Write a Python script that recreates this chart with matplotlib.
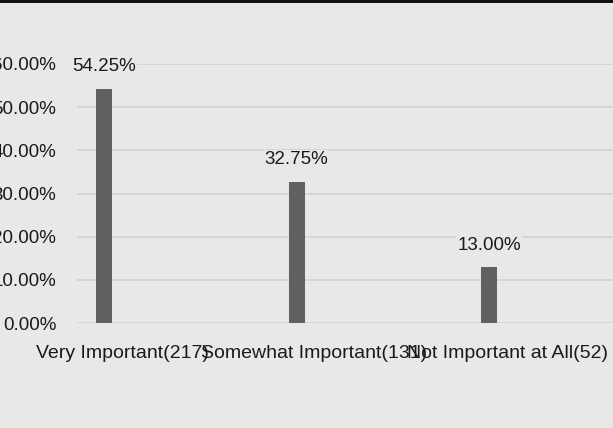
import matplotlib
matplotlib.use("Agg")
import matplotlib.pyplot as plt
from matplotlib.patches import Rectangle
from matplotlib.ticker import FuncFormatter

categories = ["Very Important(217)", "Somewhat Important(131)", "Not Important at All(52)"]
values = [54.25, 32.75, 13.00]
yticks = [0, 10, 20, 30, 40, 50, 60]

plt.rcParams['font.family'] = ['Liberation Sans', 'DejaVu Sans']

W, H = 613, 428
fig = plt.figure(figsize=(W / 100, H / 100), dpi=100)
bg = "#e8e8e8"
fig.patch.set_facecolor(bg)

left = 77 / W
bottom = 1 - 323 / H
top = 1 - 64 / H
ax = fig.add_axes([left, bottom, 1 - left, top - bottom])
ax.set_facecolor(bg)

step = 192.5
offset = 18 / step
x = list(range(len(categories)))
bx = [xi - offset for xi in x]
ax.bar(bx, values, width=16 / step, color="#606060", zorder=3)
ax.set_xlim(-(122 - 77) / step, 2 + (613 - 507) / step)
ax.set_ylim(0, 60)
ax.set_yticks(yticks)
ax.yaxis.set_major_formatter(FuncFormatter(lambda v, p: f"{v:.2f}%"))
ax.set_xticks(x)
ax.set_xticklabels(categories)
for s in ax.spines.values():
    s.set_visible(False)
ax.grid(axis="y", color="#d4d4d4", linewidth=1.3, zorder=0)
ax.tick_params(axis="both", length=0, colors="#1a1a1a")
ax.tick_params(axis="y", pad=15, labelsize=13.5)
ax.tick_params(axis="x", pad=15.5, labelsize=14)

for xi, v in zip(bx, values):
    ax.annotate(f"{v:.2f}%", (xi, v), xytext=(0, 12.5), textcoords="offset points",
                ha="center", va="baseline", fontsize=13.5, color="#1a1a1a", zorder=4,
                bbox=dict(boxstyle="square,pad=0.05", facecolor=bg, edgecolor="none"))

fig.add_artist(Rectangle((0, 1 - 3 / H), 1, 3 / H, transform=fig.transFigure,
                         facecolor="#111111", edgecolor="none"))

fig.savefig("out.png", dpi=100, facecolor=bg)
